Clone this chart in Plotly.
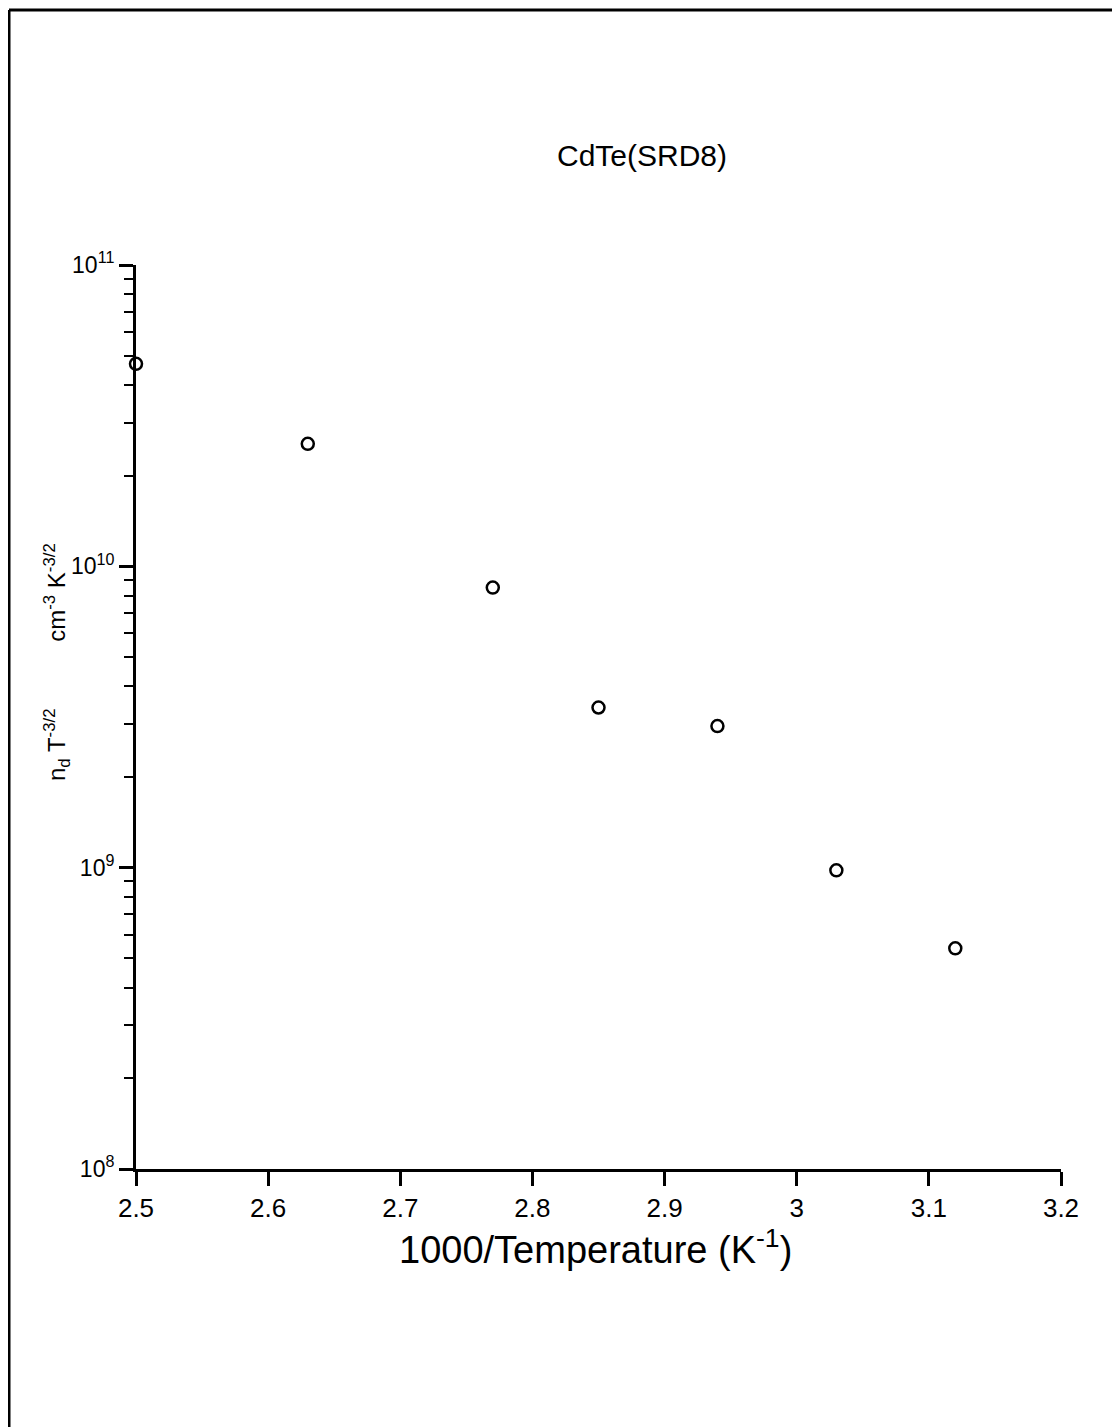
import plotly.graph_objects as go

# Data
inv_temp = [2.50, 2.63, 2.77, 2.85, 2.94, 3.03, 3.12]
nd_t32 = [4.7e10, 2.55e10, 8.5e9, 3.4e9, 2.95e9, 9.8e8, 5.4e8]

x_tickvals = [2.5, 2.6, 2.7, 2.8, 2.9, 3.0, 3.1, 3.2]
x_ticktext = ["2.5", "2.6", "2.7", "2.8", "2.9", "3", "3.1", "3.2"]
y_tickvals = [1e8, 1e9, 1e10, 1e11]
y_ticktext = ["10<sup>8</sup>", "10<sup>9</sup>", "10<sup>10</sup>", "10<sup>11</sup>"]
y_minor = [m * 10 ** e for e in (8, 9, 10) for m in range(2, 10)]

FONT = "Liberation Sans, Arial, sans-serif"

fig = go.Figure()
fig.add_trace(go.Scatter(
    x=inv_temp, y=nd_t32, mode="markers",
    marker=dict(symbol="circle-open", size=12, color="black", line=dict(width=2.5, color="black")),
    showlegend=False, cliponaxis=False,
))

OFF = 8  # page body margin offset in the browser
W, H = 1120, 1427
L, T = 136 - OFF, 265 - OFF
pw, ph = 925, 904
R, B = W - L - pw, H - T - ph

def px(xp):
    return (xp - OFF - L) / pw

def py(yp):
    return (T + ph - (yp - OFF)) / ph

fig.update_layout(
    width=W, height=H,
    margin=dict(l=L, r=R, t=T, b=B),
    paper_bgcolor="white", plot_bgcolor="white",
    font=dict(family=FONT, color="black", size=24),
    xaxis=dict(
        range=[2.5, 3.2], tickvals=x_tickvals, ticktext=x_ticktext,
        showline=True, linecolor="black", linewidth=3,
        ticks="outside", ticklen=14, tickwidth=2.5, tickcolor="black",
        showgrid=False, zeroline=False, tickfont=dict(size=26),
        ticklabelstandoff=0,
    ),
    yaxis=dict(
        type="log", range=[8, 11], tickvals=y_tickvals, ticktext=y_ticktext,
        showline=True, linecolor="black", linewidth=3,
        ticks="outside", ticklen=14, tickwidth=2.5, tickcolor="black",
        showgrid=False, zeroline=False, tickfont=dict(size=23),
        ticklabelstandoff=0,
        minor=dict(tickvals=y_minor, ticks="outside", ticklen=9, tickwidth=2.2, tickcolor="black", showgrid=False),
    ),
    annotations=[
        dict(text="CdTe(SRD8)", x=px(642), y=py(155), xref="paper", yref="paper",
             xanchor="center", yanchor="middle",
             showarrow=False, font=dict(size=30, family=FONT)),
        dict(text="1000/Temperature (K<sup>-1</sup>)", x=px(595), y=py(1247), xref="paper", yref="paper",
             xanchor="center", yanchor="middle",
             showarrow=False, font=dict(size=38, family=FONT)),
        dict(text="n<sub>d</sub> T<sup>-3/2</sup>          cm<sup>-3</sup> K<sup>-3/2</sup>",
             x=px(57), y=py(662), xref="paper", yref="paper", textangle=-90,
             xanchor="center", yanchor="middle",
             showarrow=False, font=dict(size=24, family=FONT)),
    ],
    shapes=[
        dict(type="line", xref="paper", yref="paper", x0=px(9), x1=px(1125), y0=py(10), y1=py(10),
             line=dict(color="black", width=3)),
        dict(type="line", xref="paper", yref="paper", x0=px(9), x1=px(9), y0=py(10), y1=py(1435),
             line=dict(color="black", width=3)),
    ],
)

fig.write_html("out.html")
